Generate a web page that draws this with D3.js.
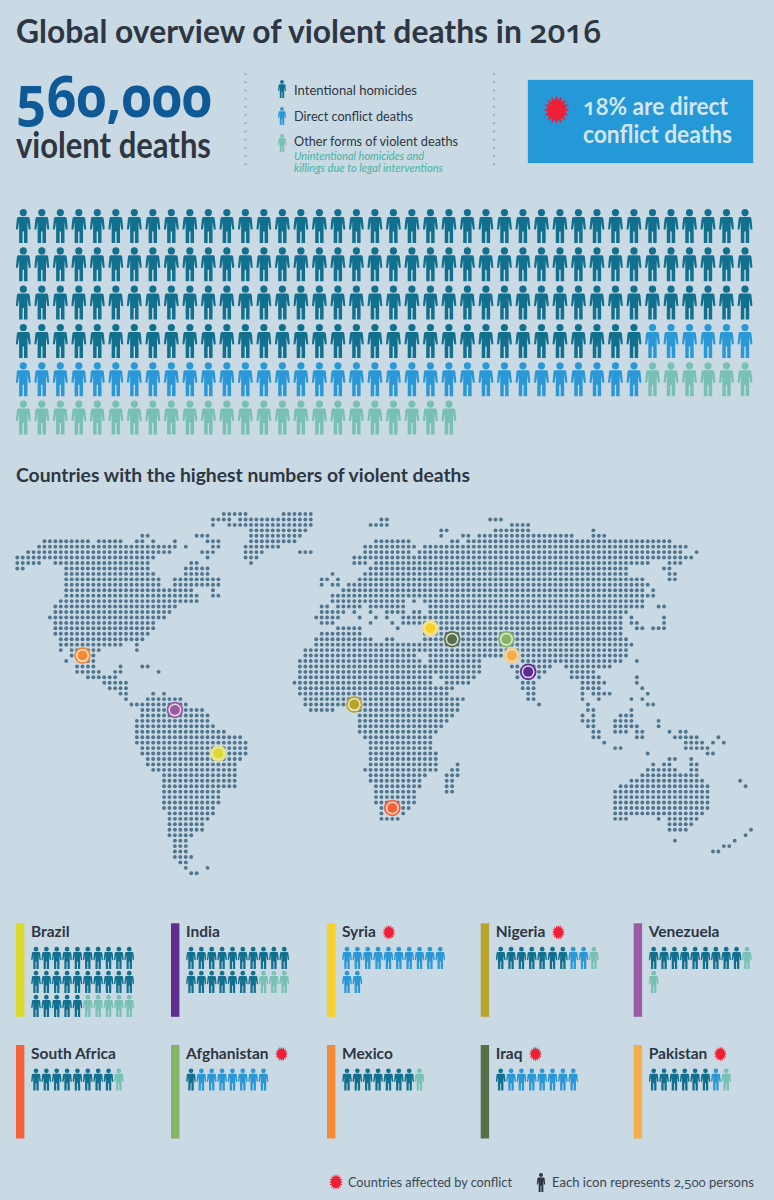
<!DOCTYPE html>
<html>
  <head>
    <title>Global overview of violent deaths in 2016</title>
    <style>
      html, body { margin: 0; padding: 0; background: #cadae4; }
      svg { display: block; }
      text { font-family: Lato, "Open Sans", sans-serif; }
      tspan.num { font-family: "Open Sans", sans-serif; font-feature-settings: "onum" 1; }
    </style>
  </head>
  <body>
    <svg id="chart" width="774" height="1200"></svg>
    <script src="https://d3js.org/d3.v7.min.js"></script>
    <script>
      // icon counts, one icon = 2,500 persons
      const kinds = ["homicide", "conflict", "other"];
      const kindLabels = ["Intentional homicides", "Direct conflict deaths", "Other forms of violent deaths"];
      const globalCounts = [154, 40, 30];

      const countries = ["Brazil", "India", "Syria", "Nigeria", "Venezuela", "South Africa", "Afghanistan", "Mexico", "Iraq", "Pakistan"];
      const homicides = [25, 17, 0, 7, 9, 8, 1, 7, 1, 6];
      const conflict = [0, 0, 12, 2, 0, 0, 7, 0, 7, 1];
      const others = [5, 3, 0, 1, 2, 1, 0, 1, 0, 1];
      const affected = ["Syria", "Nigeria", "Afghanistan", "Iraq", "Pakistan"];
      const countryColors = ["#dcd92f", "#5f2d91", "#f8d22a", "#b8a42c", "#9a5ba5", "#f4623a", "#84b464", "#f58a33", "#566f4b", "#f5ae49"];
      const washedMarkers = ["Brazil", "Syria", "Pakistan"];

      // where each country sits on the dot map, in grid columns and rows
      const markerCols = [37, 94, 76, 62, 29, 69, 90, 12, 80, 91];
      const markerRows = [44, 29, 21, 35, 36, 54, 23, 26, 23, 26];

      // dot map: for each grid row, runs of filled columns [from, to]
      const mapRows = [
        [[38,42],[49,54]],
        [[36,39],[41,54],[67,68],[87,89]],
        [[36,36],[39,54],[65,68],[91,94]],
        [[43,53],[78,79],[88,94],[106,106]],
        [[23,24],[33,35],[43,52],[78,78],[82,83],[85,102],[106,108]],
        [[5,13],[15,19],[22,23],[25,25],[29,29],[35,37],[43,51],[66,72],[80,81],[83,120]],
        [[4,29],[31,31],[36,37],[42,48],[64,73],[75,123]],
        [[2,28],[34,36],[42,45],[52,54],[64,72],[74,122],[125,125]],
        [[0,25],[35,35],[42,44],[62,124]],
        [[0,4],[7,24],[32,33],[43,43],[62,64],[66,116],[120,122]],
        [[0,1],[9,24],[31,35],[65,112],[119,120]],
        [[9,25],[31,35],[58,58],[64,112],[120,121]],
        [[9,26],[29,37],[56,57],[59,59],[63,115],[120,121]],
        [[9,26],[29,37],[56,56],[58,59],[61,116]],
        [[9,32],[36,36],[60,115],[117,117]],
        [[9,33],[36,37],[58,117]],
        [[8,33],[58,71],[73,73],[75,115]],
        [[7,29],[56,57],[59,63],[65,65],[66,71],[76,115],[118,119]],
        [[7,28],[56,60],[62,62],[65,65],[68,71],[73,74],[76,112]],
        [[6,27],[55,59],[63,63],[66,66],[68,68],[71,111],[113,113],[119,119]],
        [[7,25],[56,58],[65,65],[69,69],[71,111],[113,114],[119,119]],
        [[7,25],[59,63],[70,70],[76,111],[114,115],[117,119]],
        [[7,24],[56,63],[75,111]],
        [[8,23],[55,65],[68,69],[75,112]],
        [[8,19],[22,22],[55,74],[75,113]],
        [[8,8],[10,15],[22,22],[53,74],[75,75],[76,81],[82,112]],
        [[10,10],[14,14],[53,73],[76,89],[92,112]],
        [[9,9],[12,14],[52,74],[76,85],[93,111],[114,114]],
        [[11,14],[19,19],[23,24],[52,75],[76,85],[91,92],[95,98],[101,109]],
        [[11,15],[18,19],[26,26],[52,85],[92,97],[102,106]],
        [[13,18],[52,76],[78,84],[92,92],[96,96],[102,107],[114,114]],
        [[16,20],[51,76],[79,83],[93,95],[104,108],[114,114]],
        [[17,20],[52,80],[93,95],[104,107],[115,115]],
        [[19,20],[25,25],[27,27],[52,79],[94,95],[104,104],[106,109],[116,116]],
        [[20,20],[24,30],[53,82],[94,95],[104,104],[107,107],[113,113],[115,115]],
        [[21,31],[53,60],[62,81],[96,96],[105,105],[116,117]],
        [[23,28],[30,34],[54,58],[62,81],[105,106],[113,113]],
        [[23,35],[63,80],[104,104],[106,106],[111,113]],
        [[22,35],[63,79],[104,106],[110,113],[118,118]],
        [[22,36],[63,78],[105,106],[110,114],[118,118]],
        [[22,38],[63,77],[106,107],[110,112],[114,115],[120,120],[122,123]],
        [[22,41],[64,76],[106,107],[114,115],[121,125],[129,129]],
        [[22,42],[65,76],[108,108],[123,126],[128,128],[130,130]],
        [[23,42],[65,76],[110,111],[123,127]],
        [[23,42],[65,77],[116,116],[127,128]],
        [[24,41],[65,77],[120,121],[124,124]],
        [[24,40],[65,77],[81,81],[117,117],[119,120],[124,125]],
        [[25,40],[64,77],[80,81],[116,121],[124,125]],
        [[27,40],[65,75],[79,81],[115,125]],
        [[27,40],[65,74],[79,80],[113,126],[133,133]],
        [[27,40],[66,74],[79,80],[111,127],[134,134]],
        [[27,37],[66,73],[79,80],[110,127]],
        [[27,37],[66,73],[110,127]],
        [[27,37],[66,73],[110,127]],
        [[27,36],[67,67],[71,72],[110,127]],
        [[28,36],[67,67],[71,71],[110,126]],
        [[28,35],[67,70],[110,112],[118,118],[120,125]],
        [[28,34],[120,124]],
        [[28,34],[120,123],[135,135]],
        [[28,32],[134,134]],
        [[29,31],[121,121],[132,132]],
        [[29,31],[130,131]],
        [[29,31],[128,129]],
        [[29,32]],
        [[30,31]],
        [[31,31],[35,35]],
        [[32,33]],
      ];

      const kindColor = d3.scaleOrdinal().domain(kinds).range(["#12708f", "#2a98d6", "#78c0b3"]);
      const dark = "#2d3642";
      const burstRed = "#ee1f36";

      const svg = d3.select("#chart");
      const defs = svg.append("defs");

      // person icon, drawn 34 tall and centred on x = 0
      const person = defs.append("g").attr("id", "person");
      person.append("circle").attr("cx", 0).attr("cy", 3.6).attr("r", 3.6);
      person.append("path").attr("d",
        "M-4.6 8 H4.6 Q6 8 6.4 9.4 L7.4 19.6 Q7.5 20.7 6.4 20.7 Q5.4 20.7 5.3 19.7 L4.2 13 V34 H0.7 V22.5 H-0.7 V34 H-4.2 V13 L-5.3 19.7 Q-5.4 20.7 -6.4 20.7 Q-7.5 20.7 -7.4 19.6 L-6.4 9.4 Q-6 8 -4.6 8 Z");

      // conflict burst
      const burstPoints = d3.range(32).map((i) => {
        const a = (i / 32) * 2 * Math.PI;
        return [a, i % 2 == 0 ? 1 : 0.66];
      });
      const burstPath = d3.lineRadial().curve(d3.curveLinearClosed)(burstPoints);
      defs.append("path").attr("id", "burst").attr("d", burstPath).attr("fill", burstRed);

      function addBurst(g, x, y, rx, ry) {
        g.append("use")
          .attr("href", "#burst")
          .attr("transform", `translate(${x},${y}) scale(${rx},${ry})`);
      }

      function addText(str, x, y, size, weight, fill, fitWidth) {
        const t = svg.append("text")
          .attr("x", x).attr("y", y)
          .attr("font-size", size).attr("font-weight", weight)
          .attr("fill", fill);
        // figures are old style in the original, so they go in a font that has them
        str.split(/([\d,]*\d)/).forEach((part, i) => {
          t.append("tspan").attr("class", i % 2 ? "num" : null).text(part);
        });
        if (fitWidth) t.attr("textLength", fitWidth).attr("lengthAdjust", "spacingAndGlyphs");
        return t;
      }

      // header
      addText("Global overview of violent deaths in 2016", 16, 43, 32, 700, dark, 585)
        .select("tspan.num").style("font-weight", 600);
      addText("560,000", 16, 117, 58, 700, "#0f5a96", 196);
      addText("violent deaths", 16, 158, 36, 700, dark, 195);

      [245.5, 494].forEach((x) => {
        svg.append("g").selectAll("circle")
          .data(d3.range(74, 166, 8.2))
          .enter().append("circle")
          .attr("cx", x).attr("cy", (d) => d).attr("r", 1.2).attr("fill", "#9fb3c2");
      });

      const legendY = d3.scaleLinear().domain([0, 2]).range([80, 134]);
      const legendTextY = d3.scaleLinear().domain([0, 2]).range([95, 146]);
      kinds.forEach((k, i) => {
        svg.append("use").attr("href", "#person")
          .attr("transform", `translate(282,${legendY(i)}) scale(0.53)`)
          .attr("fill", kindColor(k));
        addText(kindLabels[i], 294, legendTextY(i), 14, 400, dark,
          [123, 119, 164][i]);
      });
      addText("Unintentional homicides and", 294, 160, 10.5, 400, "#45b3a3", 130).attr("font-style", "italic");
      addText("killings due to legal interventions", 294, 172, 10.5, 400, "#45b3a3", 149).attr("font-style", "italic");

      svg.append("rect")
        .attr("x", 527.5).attr("y", 79.5).attr("width", 226).attr("height", 84)
        .attr("fill", "#2598d8").attr("stroke", "#a9d4ec").attr("stroke-width", 1);
      addBurst(svg, 556.5, 110, 13, 14.5);
      addText("18% are direct", 583, 115, 24, 700, "#d3e6ee", 145)
        .select("tspan.num").style("font-weight", 600);
      addText("conflict deaths", 583, 143, 24, 700, "#d3e6ee", 149);

      // big pictogram: 40 icons a row
      const perRow = 40;
      const bigX = d3.scaleLinear().domain([0, perRow - 1]).range([23.3, 745]);
      const bigY = d3.scaleLinear().domain([0, 5]).range([209, 400.5]);
      const bigIcons = kinds.flatMap((k, i) => d3.range(globalCounts[i]).map(() => k));

      svg.append("g").selectAll("use")
        .data(bigIcons)
        .enter().append("use")
        .attr("href", "#person")
        .attr("transform", (d, i) => `translate(${bigX(i % perRow)},${bigY(Math.floor(i / perRow))})`)
        .attr("fill", (d) => kindColor(d));

      addText("Countries with the highest numbers of violent deaths", 16, 482, 18, 700, dark, 454);

      // dot map
      const mapX = d3.scaleLinear().domain([0, 135]).range([17.3, 751]);
      const mapY = d3.scaleLinear().domain([0, 66]).range([514, 873.3]);
      const mapDots = mapRows.flatMap((runs, row) =>
        runs.flatMap(([from, to]) => d3.range(from, to + 1).map((col) => ({ col, row })))
      );
      svg.append("g").selectAll("circle")
        .data(mapDots)
        .enter().append("circle")
        .attr("cx", (d) => mapX(d.col))
        .attr("cy", (d) => mapY(d.row))
        .attr("r", 1.95)
        .attr("fill", "#50768f");

      const markers = svg.append("g").selectAll("g")
        .data(countries)
        .enter().append("g")
        .attr("transform", (d, i) => `translate(${mapX(markerCols[i])},${mapY(markerRows[i])})`);
      markers.append("circle").attr("r", 8.3).attr("fill", (d, i) =>
        washedMarkers.includes(d) ? d3.interpolateRgb(countryColors[i], "#e6e6d8")(0.55) : countryColors[i]);
      markers.append("circle").attr("r", 6.5).attr("fill", (d, i) =>
        d3.interpolateRgb(countryColors[i], "#f4f4f2")(washedMarkers.includes(d) ? 0.55 : 0.85));
      markers.append("circle").attr("r", 5).attr("fill", (d, i) => countryColors[i]);

      // country panels
      const panelX = d3.scaleOrdinal().domain([0, 1, 2, 3, 4]).range([16, 171, 327, 480.7, 633.7]);
      const panelY = d3.scaleLinear().domain([0, 1]).range([923.3, 1045]);
      const smallStep = 10.36;
      const smallRowStep = 24;

      const panels = svg.append("g").selectAll("g")
        .data(countries)
        .enter().append("g")
        .attr("transform", (d, i) => `translate(${panelX(i % 5)},${panelY(Math.floor(i / 5))})`);

      panels.append("rect")
        .attr("width", 8.4).attr("height", 93.5)
        .attr("fill", (d, i) => countryColors[i]);

      panels.append("text")
        .attr("x", 15).attr("y", 13.5)
        .attr("font-size", 15.5).attr("font-weight", 700).attr("fill", dark)
        .text((d) => d);

      panels.each(function (d, i) {
        const g = d3.select(this);
        if (affected.includes(d)) {
          const w = g.select("text").node().getComputedTextLength();
          addBurst(g, 15 + w + 13, 9, 6.5, 7.5);
        }
        const list = [
          ...d3.range(homicides[i]).map(() => "homicide"),
          ...d3.range(conflict[i]).map(() => "conflict"),
          ...d3.range(others[i]).map(() => "other"),
        ];
        g.selectAll("use.icon")
          .data(list)
          .enter().append("use")
          .attr("class", "icon")
          .attr("href", "#person")
          .attr("transform", (k, j) => `translate(${20 + (j % 10) * smallStep},${23.5 + Math.floor(j / 10) * smallRowStep}) scale(0.65)`)
          .attr("fill", (k) => kindColor(k));
      });

      // footer
      addBurst(svg, 336, 1182, 7, 8);
      addText("Countries affected by conflict", 348, 1186.5, 12.5, 400, "#3a4753", 164);
      svg.append("use").attr("href", "#person")
        .attr("transform", "translate(541,1173) scale(0.56)")
        .attr("fill", dark);
      addText("Each icon represents 2,500 persons", 552, 1186.5, 12.5, 400, "#3a4753", 202);
    </script>
  </body>
</html>
